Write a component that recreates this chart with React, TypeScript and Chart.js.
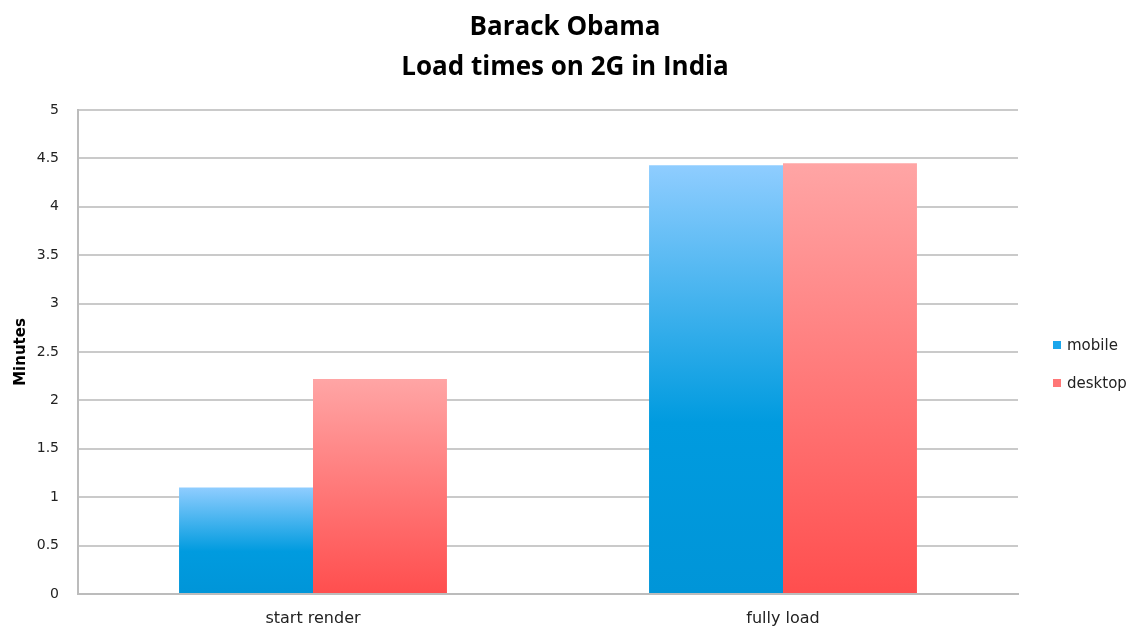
import React, { useEffect, useRef } from "react";
import { Chart, registerables } from "chart.js";

Chart.register(...registerables);

const titleLines = ["Barack Obama", "Load times on 2G in India"];
const categories = ["start render", "fully load"];
const seriesNames = ["mobile", "desktop"];
const mobileValues = [1.1, 4.43];
const desktopValues = [2.22, 4.45];
const yAxisTitle = "Minutes";

const FONT = "'DejaVu Sans', sans-serif";

function makeGradient(chart: any, value: number, stops: [number, string][]) {
  const yScale = chart.scales.y;
  if (!yScale || !chart.chartArea) return stops[stops.length - 1][1];
  const top = yScale.getPixelForValue(value);
  const bottom = yScale.getPixelForValue(0);
  const g = chart.ctx.createLinearGradient(0, top, 0, bottom);
  stops.forEach(([o, c]) => g.addColorStop(o, c));
  return g;
}

const mobileStops: [number, string][] = [
  [0, "#8fcdff"],
  [0.6, "#009bdf"],
  [1, "#0095d8"],
];
const desktopStops: [number, string][] = [
  [0, "#ffa5a5"],
  [1, "#ff4e4e"],
];

const legendPlugin = {
  id: "customLegend",
  afterDraw(chart: any) {
    const ctx = chart.ctx;
    const items = [
      { text: seriesNames[0], color: "#1aa6ec", y: 346 },
      { text: seriesNames[1], color: "#ff7777", y: 384 },
    ];
    ctx.save();
    ctx.font = `15px ${FONT}`;
    ctx.textBaseline = "middle";
    ctx.textAlign = "left";
    items.forEach((it) => {
      ctx.fillStyle = it.color;
      ctx.fillRect(1053, it.y - 5, 8, 8);
      ctx.fillStyle = "#222";
      ctx.fillText(it.text, 1067, it.y);
    });
    ctx.restore();
  },
};

export default function App() {
  const ref = useRef<HTMLCanvasElement>(null);
  useEffect(() => {
    document.body.style.margin = "0";
    if (!ref.current) return;
    const chart = new Chart(ref.current, {
      type: "bar",
      data: {
        labels: categories,
        datasets: [
          {
            label: seriesNames[0],
            data: mobileValues,
            backgroundColor: (c: any) => makeGradient(c.chart, c.raw ?? 0, mobileStops),
            borderWidth: 0,
          },
          {
            label: seriesNames[1],
            data: desktopValues,
            backgroundColor: (c: any) => makeGradient(c.chart, c.raw ?? 0, desktopStops),
            borderWidth: 0,
          },
        ],
      },
      options: {
        responsive: false,
        animation: false,
        layout: { padding: { left: 0, right: 0, top: 0, bottom: 0 } },
        datasets: { bar: { categoryPercentage: 0.57, barPercentage: 1 } },
        plugins: {
          legend: { display: false },
          tooltip: { enabled: false },
          title: {
            display: true,
            text: titleLines,
            color: "#000",
            font: { family: "'Open Sans', sans-serif", size: 26, weight: "bold", lineHeight: 1.52 },
            padding: { top: 8, bottom: 23 },
          },
        },
        scales: {
          x: {
            grid: { display: false, drawTicks: false },
            border: { display: true, color: "#bcbcbc", width: 2 },
            ticks: { color: "#222", font: { family: FONT, size: 16 }, padding: 15 },
            afterFit: (s: any) => { s.height = 34; },
          },
          y: {
            min: 0,
            max: 5,
            ticks: {
              stepSize: 0.5,
              color: "#222",
              font: { family: FONT, size: 14 },
              padding: 19,
              callback: (v: any) => String(v),
            },
            grid: { color: "#cacaca", lineWidth: 2, drawTicks: false },
            border: { display: true, color: "#bcbcbc", width: 2 },
            title: {
              display: true,
              text: yAxisTitle,
              color: "#000",
              font: { family: FONT, size: 15, weight: "bold" },
              padding: { top: 12, bottom: 0 },
            },
            afterFit: (s: any) => { s.width = 78; },
          },
          yRight: {
            position: "right",
            display: true,
            min: 0,
            max: 1,
            grid: { display: false, drawTicks: false },
            border: { display: false },
            ticks: { display: false },
            afterFit: (s: any) => { s.width = 112; },
          },
        },
      },
      plugins: [legendPlugin],
    } as any);
    return () => chart.destroy();
  }, []);
  return (
    <div style={{ width: 1130, height: 628, background: "#fff" }}>
      <canvas ref={ref} width={1130} height={628} />
    </div>
  );
}
